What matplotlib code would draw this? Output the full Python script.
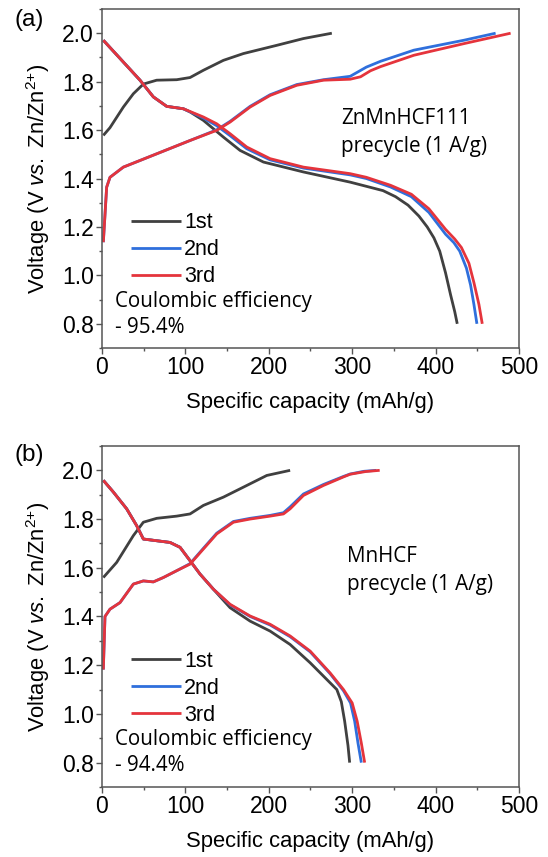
import matplotlib
matplotlib.use("Agg")
import matplotlib.pyplot as plt
from matplotlib.ticker import MultipleLocator

plt.rcParams["font.family"] = ["Liberation Sans", "DejaVu Sans"]
plt.rcParams["mathtext.fontset"] = "custom"
plt.rcParams["mathtext.rm"] = "Liberation Sans"
plt.rcParams["mathtext.it"] = "Liberation Sans:italic"

# ---- panel (a): ZnMnHCF111 ----
a_chg1_q = [1.6, 9.6, 25.6, 37.6, 49.6, 65.6, 89.6, 105.6, 121.6, 145.6, 169.6, 209.6, 241.6, 275.6]
a_chg1_v = [1.578, 1.61, 1.695, 1.75, 1.79, 1.806, 1.808, 1.817, 1.847, 1.888, 1.916, 1.95, 1.978, 2.0]
a_dis1_q = [1.6, 45.6, 61.6, 77.6, 97.6, 105.6, 121.6, 145.6, 165.6, 193.6, 241.6, 297.6, 337, 352, 367, 380, 390, 398, 405, 412, 418, 423, 426]
a_dis1_v = [1.971, 1.806, 1.737, 1.698, 1.688, 1.675, 1.64, 1.571, 1.516, 1.468, 1.427, 1.385, 1.35, 1.325, 1.29, 1.245, 1.2, 1.155, 1.1, 1.01, 0.92, 0.85, 0.8]

a_chg2_q = [1.6, 5.6, 9.6, 25.6, 65.6, 105.6, 137.6, 153.6, 177.6, 201.6, 233.6, 265.6, 297.6, 317, 334, 374, 434, 472]
a_chg2_v = [1.137, 1.364, 1.405, 1.447, 1.502, 1.557, 1.601, 1.636, 1.698, 1.746, 1.788, 1.808, 1.822, 1.86, 1.884, 1.93, 1.971, 2.0]
a_dis2_q = [1.6, 45.6, 61.6, 77.6, 97.6, 121.6, 137.6, 153.6, 173.6, 201.6, 241.6, 297.6, 317, 346, 371, 392, 412, 422, 429, 437, 442, 446, 449.6]
a_dis2_v = [1.971, 1.806, 1.737, 1.698, 1.688, 1.65, 1.618, 1.577, 1.523, 1.477, 1.443, 1.415, 1.4, 1.365, 1.325, 1.26, 1.17, 1.135, 1.1, 1.03, 0.96, 0.88, 0.8]

a_chg3_q = [1.6, 5.6, 9.6, 25.6, 65.6, 105.6, 137.6, 153.6, 177.6, 201.6, 233.6, 265.6, 297.6, 310, 322, 334, 374, 434, 490]
a_chg3_v = [1.137, 1.364, 1.405, 1.447, 1.502, 1.557, 1.599, 1.633, 1.695, 1.743, 1.785, 1.806, 1.81, 1.82, 1.845, 1.862, 1.909, 1.957, 2.0]
a_dis3_q = [1.6, 45.6, 61.6, 77.6, 97.6, 121.6, 137.6, 153.6, 173.6, 201.6, 241.6, 297.6, 317, 346, 371, 392, 412, 423, 431, 440, 446, 452, 456]
a_dis3_v = [1.971, 1.806, 1.737, 1.698, 1.688, 1.654, 1.626, 1.585, 1.53, 1.482, 1.447, 1.42, 1.405, 1.372, 1.335, 1.275, 1.19, 1.15, 1.115, 1.05, 0.97, 0.88, 0.8]

# ---- panel (b): MnHCF ----
b_chg1_q = [1.6, 17.6, 37.6, 49.6, 65.6, 89.6, 105.6, 121.6, 145.6, 169.6, 197.6, 225.6]
b_chg1_v = [1.56, 1.622, 1.732, 1.787, 1.803, 1.812, 1.821, 1.856, 1.89, 1.931, 1.979, 2.0]
b_dis1_q = [1.6, 13.6, 29.6, 41.6, 49.6, 65.6, 81.6, 93.6, 105.6, 117.6, 133.6, 153.6, 177.6, 201.6, 225.6, 249.6, 265.6, 281.6, 287, 291, 295, 297]
b_dis1_v = [1.959, 1.911, 1.842, 1.773, 1.718, 1.711, 1.704, 1.684, 1.629, 1.574, 1.512, 1.436, 1.381, 1.34, 1.285, 1.21, 1.155, 1.1, 1.05, 0.97, 0.87, 0.8]

b_chg2_q = [1.6, 3.6, 9.6, 21.6, 37.6, 49.6, 61.6, 73.6, 89.6, 105.6, 121.6, 137.6, 157.6, 177.6, 201.6, 217.6, 225.6, 241.6, 265.6, 289.6, 297.6, 314, 329]
b_chg2_v = [1.182, 1.4, 1.43, 1.457, 1.533, 1.546, 1.542, 1.56, 1.588, 1.617, 1.68, 1.742, 1.79, 1.803, 1.815, 1.826, 1.85, 1.903, 1.942, 1.975, 1.985, 1.996, 2.0]
b_dis2_q = [1.6, 13.6, 29.6, 41.6, 49.6, 65.6, 81.6, 93.6, 105.6, 117.6, 133.6, 153.6, 177.6, 201.6, 225.6, 249.6, 273.6, 289.6, 298, 303, 307, 311]
b_dis2_v = [1.959, 1.911, 1.842, 1.773, 1.718, 1.711, 1.704, 1.684, 1.629, 1.574, 1.512, 1.448, 1.4, 1.365, 1.317, 1.255, 1.165, 1.095, 1.045, 0.97, 0.88, 0.8]

b_chg3_q = [1.6, 3.6, 9.6, 21.6, 37.6, 49.6, 61.6, 73.6, 89.6, 105.6, 121.6, 137.6, 157.6, 177.6, 201.6, 217.6, 225.6, 241.6, 265.6, 289.6, 297.6, 316, 333]
b_chg3_v = [1.182, 1.4, 1.43, 1.457, 1.533, 1.546, 1.542, 1.56, 1.588, 1.615, 1.677, 1.739, 1.787, 1.8, 1.812, 1.821, 1.842, 1.897, 1.938, 1.973, 1.984, 1.995, 2.0]
b_dis3_q = [1.6, 13.6, 29.6, 41.6, 49.6, 65.6, 81.6, 93.6, 105.6, 117.6, 133.6, 153.6, 177.6, 201.6, 225.6, 249.6, 273.6, 289.6, 300, 306, 311, 315]
b_dis3_v = [1.959, 1.911, 1.842, 1.773, 1.718, 1.711, 1.704, 1.684, 1.629, 1.574, 1.512, 1.45, 1.402, 1.368, 1.32, 1.258, 1.168, 1.1, 1.045, 0.97, 0.88, 0.8]

cycle_labels = ["1st", "2nd", "3rd"]
cycle_colors = ["#404040", "#2f6fdc", "#e5343c"]

panels = [
    ("(a)", "ZnMnHCF111\nprecycle (1 A/g)", 287, "Coulombic efficiency\n- 95.4%",
     [(a_chg1_q, a_chg1_v, a_dis1_q, a_dis1_v),
      (a_chg2_q, a_chg2_v, a_dis2_q, a_dis2_v),
      (a_chg3_q, a_chg3_v, a_dis3_q, a_dis3_v)]),
    ("(b)", "MnHCF\nprecycle (1 A/g)", 294, "Coulombic efficiency\n- 94.4%",
     [(b_chg1_q, b_chg1_v, b_dis1_q, b_dis1_v),
      (b_chg2_q, b_chg2_v, b_dis2_q, b_dis2_v),
      (b_chg3_q, b_chg3_v, b_dis3_q, b_dis3_v)]),
]

fig = plt.figure(figsize=(5.48, 8.57), dpi=100)
rects = [[0.1861, 0.5939, 0.7609, 0.3956], [0.1861, 0.0817, 0.7609, 0.3979]]
tag_y = [0.990, 0.482]

for rect, ty, (tag, name, name_x, ce, cycles) in zip(rects, tag_y, panels):
    ax = fig.add_axes(rect)
    for (cq, cv, dq, dv), lab, col in zip(cycles, cycle_labels, cycle_colors):
        ax.plot(cq, cv, color=col, lw=2.0, label=lab, solid_capstyle="butt")
        ax.plot(dq, dv, color=col, lw=2.0, solid_capstyle="butt")

    ax.set_xlim(0, 500)
    ax.set_ylim(0.7, 2.1)
    ax.xaxis.set_major_locator(MultipleLocator(100))
    ax.xaxis.set_minor_locator(MultipleLocator(50))
    ax.yaxis.set_minor_locator(MultipleLocator(0.1))
    ax.set_yticks([0.8, 1.0, 1.2, 1.4, 1.6, 1.8, 2.0])
    ax.tick_params(which="major", direction="out", length=4, width=1, color="#555555",
                   labelsize=16.5, pad=2)
    ax.tick_params(which="minor", direction="out", length=2.5, width=1, color="#555555")
    for sp in ax.spines.values():
        sp.set_color("#555555")
        sp.set_linewidth(1.1)

    ax.set_xlabel("Specific capacity (mAh/g)", fontsize=15.8, labelpad=9)
    ax.set_ylabel(r"Voltage (V $\it{vs.}$ Zn/Zn$^{2{+}}$)", fontsize=15.8, labelpad=7)

    ax.text(name_x, 1.59, name, fontsize=14.9, family="Open Sans", va="center", ha="left",
            linespacing=1.45)
    ax.text(16, 0.84, ce, fontsize=14.8, family="Open Sans", va="center", ha="left",
            linespacing=1.3)
    fig.text(14 / 548, ty, tag, fontsize=17.5, va="top", ha="left")

    ax.legend(loc="upper left", bbox_to_anchor=(0.07, 0.40), frameon=False,
              fontsize=15.5, handlelength=2.3, handletextpad=0.15, labelspacing=0.28,
              borderpad=0, borderaxespad=0)

fig.savefig("out.png", dpi=100)
